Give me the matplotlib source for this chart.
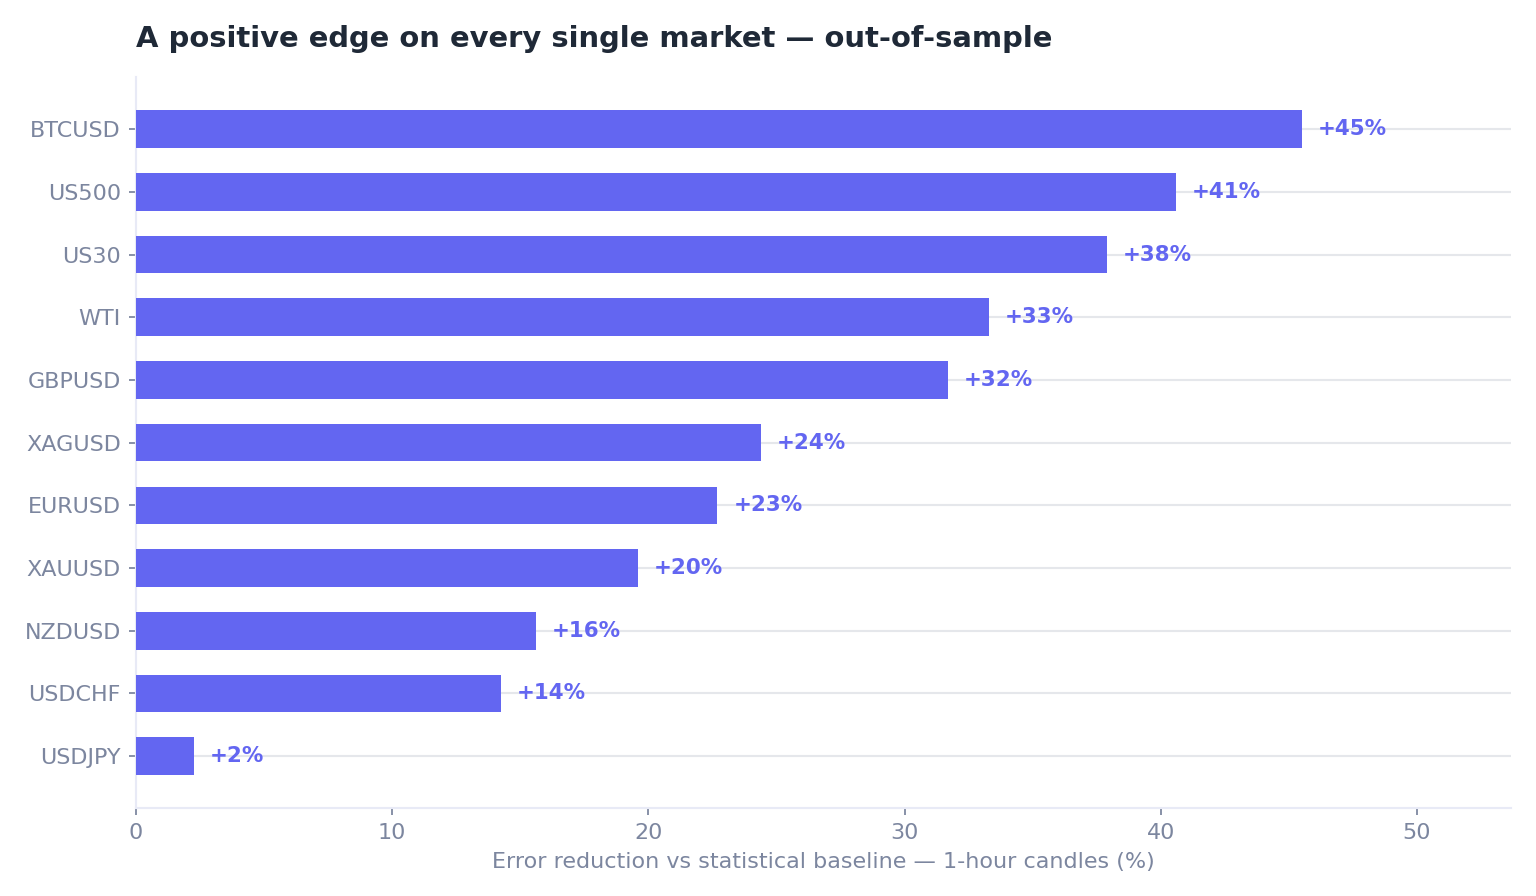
import matplotlib.pyplot as plt

# 数据（从上到下）
markets = ['BTCUSD', 'US500', 'US30', 'WTI', 'GBPUSD', 'XAGUSD',
           'EURUSD', 'XAUUSD', 'NZDUSD', 'USDCHF', 'USDJPY']
reduction = [45.5, 40.6, 37.9, 33.3, 31.7, 24.4, 22.7, 19.6, 15.6, 14.25, 2.25]
labels = ['+45%', '+41%', '+38%', '+33%', '+32%', '+24%',
          '+23%', '+20%', '+16%', '+14%', '+2%']

bar_color = '#6366F1'
muted = '#7C869F'

plt.rcParams['font.family'] = ['DejaVu Sans']

fig = plt.figure(figsize=(12, 7), dpi=128)
ax = fig.add_axes([0.0885, 0.098, 0.8955, 0.816])

y = list(range(len(markets)))[::-1]
ax.barh(y, reduction, height=0.6, color=bar_color, zorder=3)

for yi, v, lab in zip(y, reduction, labels):
    ax.annotate(lab, (v, yi), xytext=(9, 0), textcoords='offset points',
                va='center', ha='left', fontsize=12, fontweight='bold',
                color=bar_color, zorder=4)

ax.set_yticks(y)
ax.set_yticklabels(markets)
ax.set_xlim(0, max(reduction) * 1.18)
ax.set_xticks([0, 10, 20, 30, 40, 50])

ax.grid(axis='y', color='#E5E7EB', linewidth=1.2, zorder=0)
ax.grid(axis='x', visible=False)
for s in ['top', 'right']:
    ax.spines[s].set_visible(False)
for s in ['left', 'bottom']:
    ax.spines[s].set_color('#E8EAF6')
    ax.spines[s].set_linewidth(1.2)
ax.tick_params(colors=muted, labelsize=12.5, length=4, width=1, pad=4.5)

ax.set_xlabel('Error reduction vs statistical baseline — 1-hour candles (%)',
              color=muted, fontsize=12.5, labelpad=5)
ax.set_title('A positive edge on every single market — out-of-sample',
             loc='left', fontsize=16.3, fontweight='bold', color='#1F2937', pad=17)

fig.savefig('out.png', dpi=128, facecolor='white')
